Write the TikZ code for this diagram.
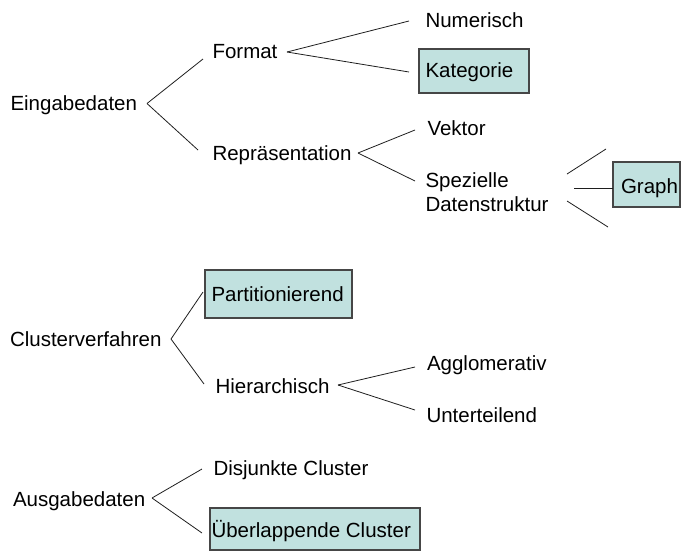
\documentclass[tikz,border=0pt]{standalone}
\usepackage{fontspec}
\setmainfont{Liberation Sans}
\definecolor{boxfill}{RGB}{193,225,223}
\definecolor{boxline}{RGB}{70,70,70}
\definecolor{linkcol}{RGB}{30,30,30}
\begin{document}
\begin{tikzpicture}[x=1pt,y=-1pt,
  every node/.style={inner sep=0pt, outer sep=0pt},
  lbl/.style={anchor=base west, font=\fontsize{20.5pt}{24pt}\selectfont},
  hl/.style={draw=boxline, fill=boxfill, line width=1.1pt, anchor=north west},
  link/.style={draw=linkcol, line width=0.8pt}]
\useasboundingbox (0,0) rectangle (681,550);

% highlighted boxes
\node[hl, minimum width=110pt, minimum height=44pt] (katbox) at (419,49) {};
\node[hl, minimum width=67pt, minimum height=45pt] (graphbox) at (613,162) {};
\node[hl, minimum width=147pt, minimum height=48pt] (partbox) at (205,270) {};
\node[hl, minimum width=210pt, minimum height=42pt] (ueberbox) at (210,508) {};

% Eingabedaten
\node[lbl] (eing) at (10.5,110) {Eingabedaten};
\node[lbl] (format) at (212.5,58) {Format};
\node[lbl] (num) at (425.5,27) {Numerisch};
\node[lbl] (kat) at (425.5,77) {Kategorie};
\node[lbl] (repr) at (212.5,160) {Repräsentation};
\node[lbl] (vektor) at (427.5,135) {Vektor};
\node[lbl, anchor=north west, align=left, font=\fontsize{20.5pt}{24pt}\selectfont] (spez) at (425.5,172.5) {Spezielle\\Datenstruktur};
\node[lbl] (graph) at (621,193) {Graph};

% Clusterverfahren
\node[lbl] (clv) at (10,346) {Clusterverfahren};
\node[lbl] (part) at (211.5,301) {Partitionierend};
\node[lbl] (hier) at (215.5,393) {Hierarchisch};
\node[lbl] (aggl) at (427,370) {Agglomerativ};
\node[lbl] (unter) at (426.5,422) {Unterteilend};

% Ausgabedaten
\node[lbl] (ausg) at (13,506) {Ausgabedaten};
\node[lbl] (disj) at (213.5,475) {Disjunkte Cluster};
\node[lbl] (ueber) at (211.5,537) {Überlappende Cluster};

% connector end points
\coordinate (eingR) at (147,103.5);
\coordinate (formatL) at (203,59);
\coordinate (reprL) at (198,150);
\coordinate (formatR) at (287,52);
\coordinate (numL) at (409,21);
\coordinate (katL) at (409,72);
\coordinate (reprR) at (358,153);
\coordinate (vektorL) at (415,130);
\coordinate (spezL) at (415,181);
\coordinate (spezRa) at (567,174);
\coordinate (spezRb) at (574,188);
\coordinate (spezRc) at (567,201);
\coordinate (upA) at (606,149);
\coordinate (graphL) at (613,188);
\coordinate (downC) at (608,227);
\coordinate (clvR) at (171,339);
\coordinate (partL) at (203,292);
\coordinate (hierL) at (204,384);
\coordinate (hierR) at (338,385);
\coordinate (agglL) at (415,367);
\coordinate (unterL) at (415,410);
\coordinate (ausgR) at (152,498);
\coordinate (disjL) at (202,469);
\coordinate (ueberL) at (202,533);

% connectors
\draw[link] (eingR) -- (formatL);
\draw[link] (eingR) -- (reprL);
\draw[link] (formatR) -- (numL);
\draw[link] (formatR) -- (katL);
\draw[link] (reprR) -- (vektorL);
\draw[link] (reprR) -- (spezL);
\draw[link] (spezRa) -- (upA);
\draw[link] (spezRb) -- (graphL);
\draw[link] (spezRc) -- (downC);
\draw[link] (clvR) -- (partL);
\draw[link] (clvR) -- (hierL);
\draw[link] (hierR) -- (agglL);
\draw[link] (hierR) -- (unterL);
\draw[link] (ausgR) -- (disjL);
\draw[link] (ausgR) -- (ueberL);
\end{tikzpicture}
\end{document}
